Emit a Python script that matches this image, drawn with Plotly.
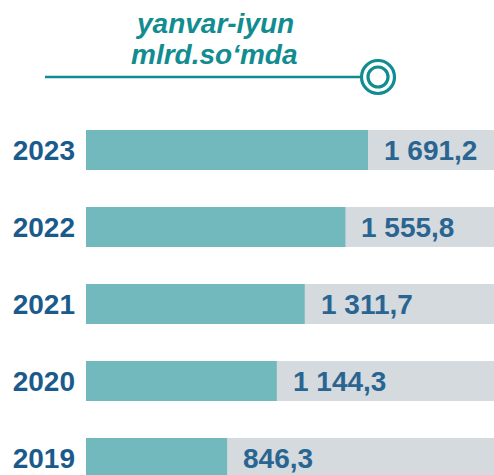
import plotly.graph_objects as go

# Half-year totals, billion so'm
years = ["2019", "2020", "2021", "2022", "2023"]
values = [846.3, 1144.3, 1311.7, 1555.8, 1691.2]
value_labels = ["846,3", "1 144,3", "1 311,7", "1 555,8", "1 691,2"]
title_lines = ["yanvar-iyun", "mlrd.so‘mda"]

W, H = 494, 475
LEFT = 86                      # left edge of the bars
PX_PER_UNIT = 282 / 1691.2     # horizontal scale
X_MAX = (W - LEFT) / PX_PER_UNIT
track = [X_MAX * 1.05] * len(years)

TEAL = "#72B9BE"
GREY = "#D5DADE"
YEAR_C = "#1B5B8C"
VAL_C = "#2A6591"
HEAD_C = "#118C90"

fig = go.Figure()
fig.add_trace(go.Bar(
    y=years, x=track, orientation="h", marker=dict(color=GREY, line=dict(width=0)),
    width=0.52, hoverinfo="skip", showlegend=False,
))
fig.add_trace(go.Bar(
    y=years, x=values, orientation="h", marker=dict(color=TEAL, line=dict(width=0)),
    width=0.52, showlegend=False,
))

# value labels just past the end of each bar (y given as category index)
for i, (v, lab) in enumerate(zip(values, value_labels)):
    fig.add_annotation(
        x=v, y=i, xref="x", yref="y", text=lab, showarrow=False,
        xanchor="left", yanchor="middle", xshift=14, yshift=-1,
        font=dict(family="Liberation Sans, Arial", size=28, color=VAL_C, weight="bold"),
    )

# header: two-line caption with a rule ending in a double ring
def px_x(px):
    return (px - LEFT) / (W - LEFT)

def px_y(py):
    return 1 - py / H

for line, py in zip(title_lines, (24, 54)):
    fig.add_annotation(
        x=px_x(214), y=px_y(py), xref="paper", yref="paper", text=line,
        showarrow=False, xanchor="center", yanchor="middle",
        font=dict(family="Liberation Sans, Arial", size=28, color=HEAD_C,
                  weight="bold", style="italic"),
    )
fig.add_shape(type="line", xref="paper", yref="paper",
              x0=px_x(45), x1=px_x(362), y0=px_y(77), y1=px_y(77),
              line=dict(color=HEAD_C, width=2.5))
for r in (16.5, 10):
    fig.add_shape(type="circle", xref="paper", yref="paper",
                  x0=px_x(378 - r), x1=px_x(378 + r), y0=px_y(77 + r), y1=px_y(77 - r),
                  line=dict(color=HEAD_C, width=3.2), fillcolor="rgba(0,0,0,0)")

fig.update_layout(
    width=W, height=H,
    margin=dict(l=LEFT, r=0, t=0, b=0),
    paper_bgcolor="white", plot_bgcolor="white",
    barmode="overlay", barcornerradius=2,
    xaxis=dict(range=[0, X_MAX], visible=False, fixedrange=True),
    yaxis=dict(
        type="category", categoryarray=years, categoryorder="array",
        range=[-0.221, 5.948], showgrid=False, zeroline=False, showline=False,
        ticks="", ticklabelstandoff=10,
        tickfont=dict(family="Liberation Sans, Arial", size=28, color=YEAR_C, weight="bold"),
    ),
)

fig.write_html("out.html")
